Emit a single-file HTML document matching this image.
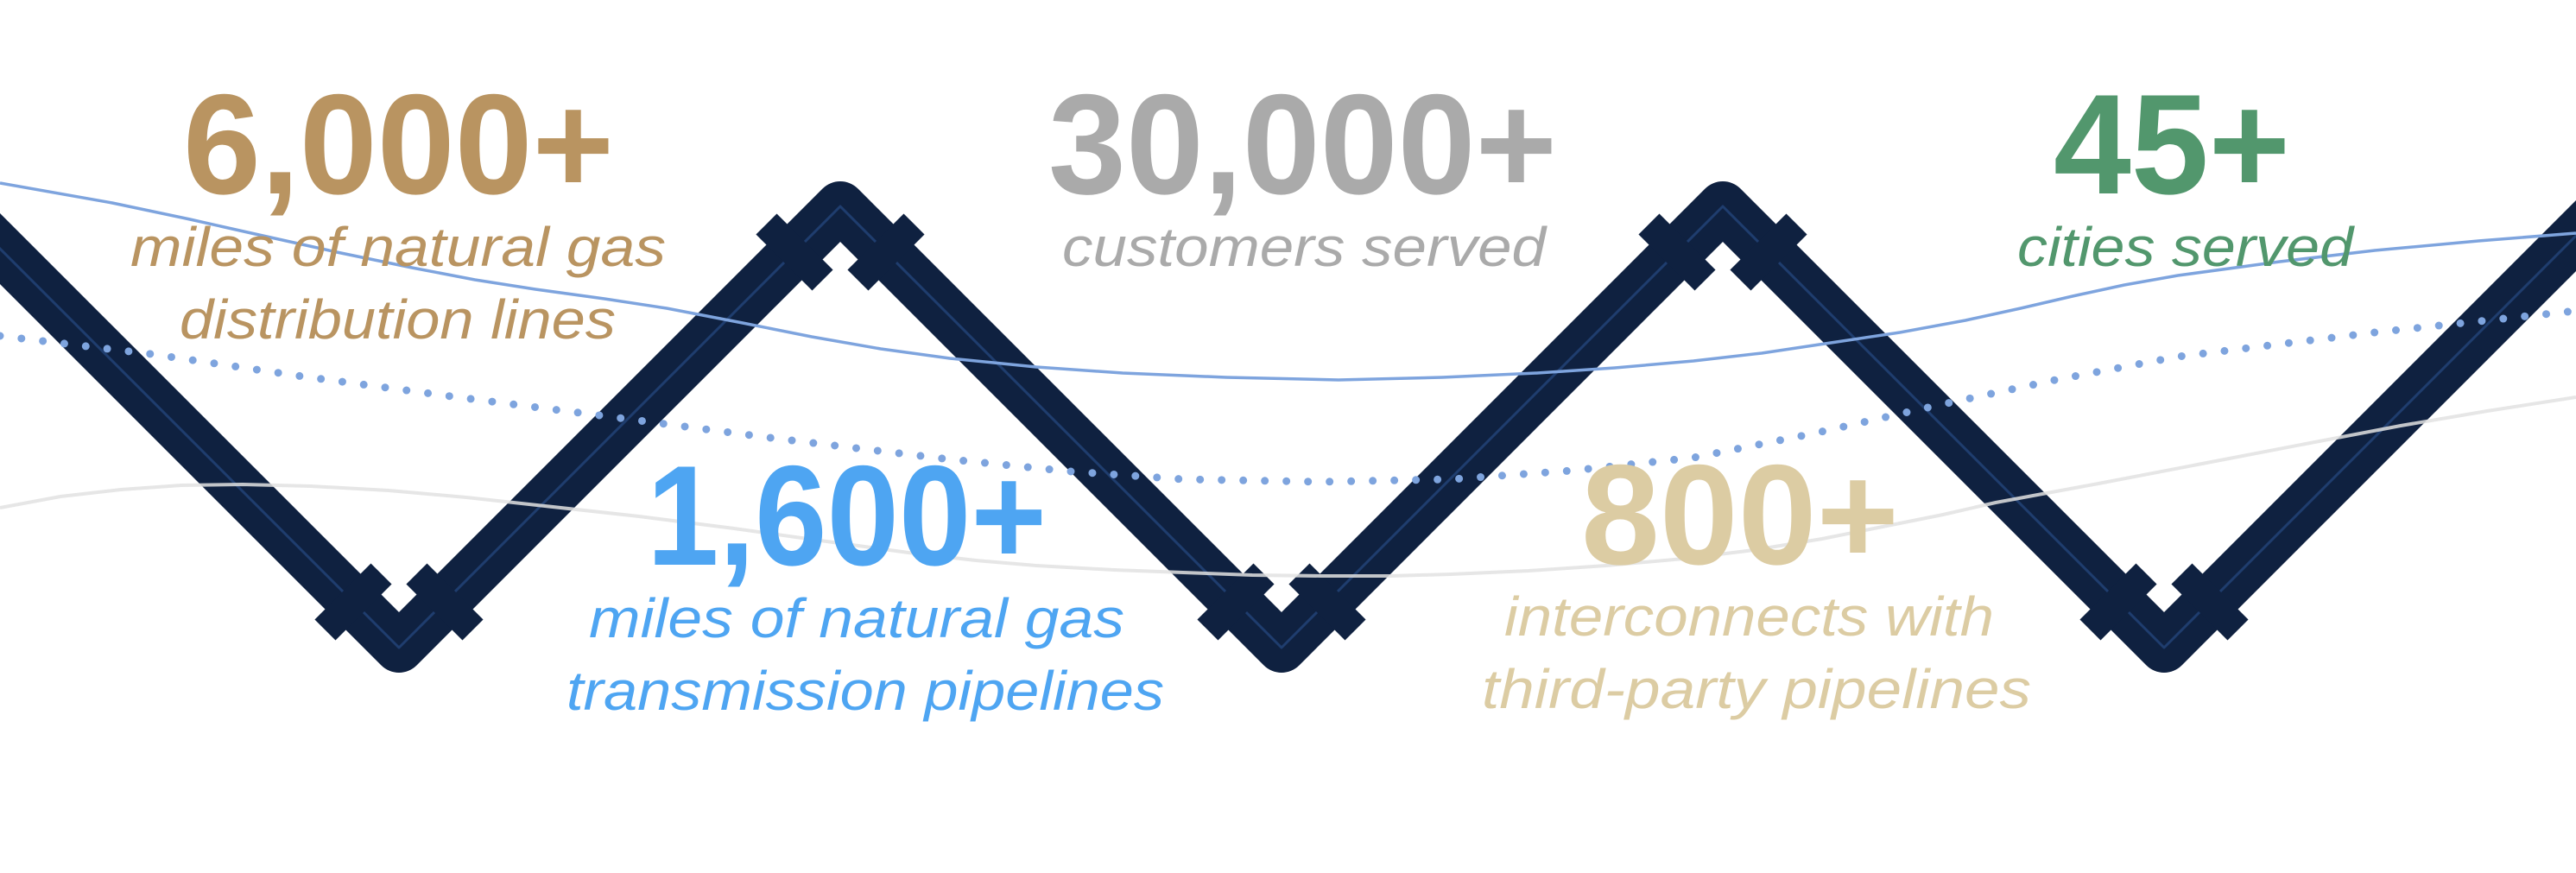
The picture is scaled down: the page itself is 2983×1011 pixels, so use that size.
<!DOCTYPE html>
<html><head><meta charset="utf-8"><style>
html,body{margin:0;padding:0;background:#fff;}
svg{display:block;}
.n{font-family:"Liberation Sans",sans-serif;font-weight:bold;font-size:165px;}
.s{font-family:"Liberation Sans",sans-serif;font-style:italic;font-size:64px;}
</style></head><body>
<svg width="2983" height="1011" viewBox="0 0 2983 1011" xmlns="http://www.w3.org/2000/svg">
<rect width="2983" height="1011" fill="#fff"/>
<g fill="#0f2140">
<path d="M-60,228 L462,750 L973,239 L1484,750 L1995,239 L2506,750 L3050,206" fill="none" stroke="#0f2140" stroke-width="58" stroke-linejoin="round"/>
<path d="M-60,228 L462,750 L973,239 L1484,750 L1995,239 L2506,750 L3050,206" fill="none" stroke="#1f3d6e" stroke-width="3" stroke-linejoin="round"/>
<g>
<rect x="-17" y="-46" width="34" height="92" transform="translate(409,697) rotate(45)"/>
<rect x="-17" y="-46" width="34" height="92" transform="translate(515,697) rotate(-45)"/>
<rect x="-17" y="-46" width="34" height="92" transform="translate(1431,697) rotate(45)"/>
<rect x="-17" y="-46" width="34" height="92" transform="translate(1537,697) rotate(-45)"/>
<rect x="-17" y="-46" width="34" height="92" transform="translate(2453,697) rotate(45)"/>
<rect x="-17" y="-46" width="34" height="92" transform="translate(2559,697) rotate(-45)"/>
<rect x="-17" y="-46" width="34" height="92" transform="translate(920,292) rotate(-45)"/>
<rect x="-17" y="-46" width="34" height="92" transform="translate(1026,292) rotate(45)"/>
<rect x="-17" y="-46" width="34" height="92" transform="translate(1942,292) rotate(-45)"/>
<rect x="-17" y="-46" width="34" height="92" transform="translate(2048,292) rotate(45)"/>
</g>
</g>
<polyline fill="none" stroke="#e2e2e2" stroke-opacity="0.85" stroke-width="4" stroke-linejoin="round" points="0,588 70,575 140,567 210,562 281,561 360,563 450,568 540,576 631,586 740,598 850,612 950,626 1052,640 1130,649 1200,655 1290,660 1370,663 1450,666 1530,667 1610,667 1680,665 1770,661 1860,655 1950,647 2031,637 2110,624 2180,610 2250,596 2311,582 2430,560 2550,537 2670,514 2780,493 2880,476 2983,460"/>
<polyline fill="none" stroke="#7ea4de" stroke-width="3.5" stroke-linejoin="round" points="0,212 130,235 220,254 300,272 390,292 477,310 550,324 620,335 700,346 772,357 860,374 940,390 1020,404 1100,415 1200,425 1300,432 1420,437 1550,440 1670,437 1780,432 1870,426 1961,418 2040,409 2120,397 2200,385 2276,371 2340,357 2400,343 2460,330 2522,319 2640,303 2750,290 2870,279 2983,270"/>
<polyline fill="none" stroke="#7ea4de" stroke-width="9" stroke-linecap="round" stroke-dasharray="0 25" points="0,389 175,410 351,436 530,460 702,482 900,508 1100,532 1240,546 1370,555 1530,558 1680,555 1820,545 1961,530 2100,502 2241,470 2380,440 2522,413 2750,385 2983,360"/>
<text class="n" x="212" y="224" fill="#b99461" textLength="499" lengthAdjust="spacingAndGlyphs">6,000+</text>
<text class="s" x="151" y="308" fill="#b99461" textLength="620" lengthAdjust="spacingAndGlyphs">miles of natural gas</text>
<text class="s" x="208" y="392" fill="#b99461" textLength="505" lengthAdjust="spacingAndGlyphs">distribution lines</text>
<text class="n" x="1214" y="224" fill="#aaaaaa" textLength="589" lengthAdjust="spacingAndGlyphs">30,000+</text>
<text class="s" x="1230" y="308" fill="#aaaaaa" textLength="560" lengthAdjust="spacingAndGlyphs">customers served</text>
<text class="n" x="2378" y="224" fill="#52976d" textLength="274" lengthAdjust="spacingAndGlyphs">45+</text>
<text class="s" x="2336" y="308" fill="#52976d" textLength="389" lengthAdjust="spacingAndGlyphs">cities served</text>
<text class="n" x="749" y="654" fill="#4ea5f2" textLength="463" lengthAdjust="spacingAndGlyphs">1,600+</text>
<text class="s" x="682" y="738" fill="#4ea5f2" textLength="620" lengthAdjust="spacingAndGlyphs">miles of natural gas</text>
<text class="s" x="656" y="822" fill="#4ea5f2" textLength="692" lengthAdjust="spacingAndGlyphs">transmission pipelines</text>
<text class="n" x="1831" y="653" fill="#dccca3" textLength="368" lengthAdjust="spacingAndGlyphs">800+</text>
<text class="s" x="1742" y="736" fill="#dccca3" textLength="567" lengthAdjust="spacingAndGlyphs">interconnects with</text>
<text class="s" x="1716" y="820" fill="#dccca3" textLength="636" lengthAdjust="spacingAndGlyphs">third-party pipelines</text>
</svg>
</body></html>
